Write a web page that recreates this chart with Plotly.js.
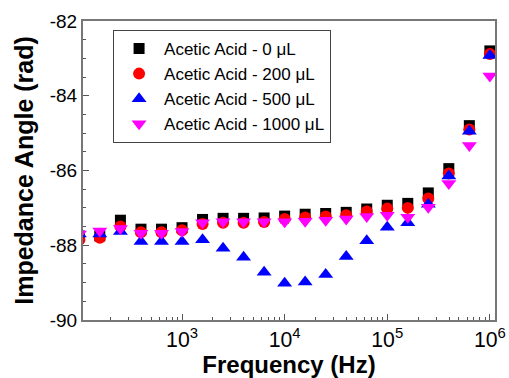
<!DOCTYPE html>
<html><head><meta charset="utf-8">
<script src="https://cdn.plot.ly/plotly-3.0.1.min.js"></script>
<style>html,body{margin:0;padding:0;background:#fff}#chart{width:509px;height:378px}</style>
</head><body><div id="chart"></div>
<script>
const freq = [100, 158, 251, 398, 631, 1000, 1585, 2512, 3981, 6310, 10000, 15849, 25119, 39811, 63096, 100000, 158489, 251189, 398107, 630957, 1000000];
const acid0 = [-87.75, -87.75, -87.33, -87.57, -87.57, -87.53, -87.31, -87.28, -87.28, -87.27, -87.22, -87.17, -87.15, -87.12, -87.03, -86.93, -86.88, -86.6, -85.95, -84.8, -82.8];
const acid200 = [-87.85, -87.8, -87.5, -87.65, -87.65, -87.6, -87.43, -87.4, -87.4, -87.38, -87.3, -87.26, -87.23, -87.2, -87.1, -87.02, -87.0, -86.75, -86.08, -84.9, -82.88];
const acid500 = [-87.7, -87.7, -87.63, -87.9, -87.9, -87.9, -87.85, -88.08, -88.32, -88.72, -89.02, -88.98, -88.78, -88.3, -87.88, -87.52, -87.4, -86.9, -86.15, -84.95, -82.92];
const acid1000 = [-87.7, -87.62, -87.55, -87.68, -87.68, -87.63, -87.4, -87.37, -87.37, -87.37, -87.37, -87.36, -87.33, -87.3, -87.23, -87.2, -87.25, -86.98, -86.35, -85.33, -83.47];
const names = ['Acetic Acid - 0 μL', 'Acetic Acid - 200 μL', 'Acetic Acid - 500 μL', 'Acetic Acid - 1000 μL'];
const yTicks = [-90, -88, -86, -84, -82];
const yTickText = ['-90', '-88', '-86', '-84', '-82'];

const series = [acid0, acid200, acid500, acid1000];
const symbols = ['square', 'circle', 'triangle-up', 'triangle-down'];
const colors = ['#000000', '#ff0000', '#0000ff', '#ff00ff'];
const sizes = [11, 12, 13, 13];

const traces = series.map((ys, i) => ({
  x: freq, y: ys, type: 'scatter', mode: 'markers', name: names[i],
  marker: {symbol: symbols[i], color: colors[i], size: sizes[i], line: {width: 0}}
}));

const font = 'Arial, "Liberation Sans", sans-serif';
const layout = {
  width: 509, height: 378,
  margin: {l: 83, r: 14, t: 21, b: 58},
  paper_bgcolor: '#fff', plot_bgcolor: '#fff',
  font: {family: font, color: '#000'},
  showlegend: true,
  legend: {x: 0.073, y: 0.97, xanchor: 'left', yanchor: 'top',
    bordercolor: '#444', borderwidth: 1, bgcolor: '#fff',
    font: {size: 17, family: font, color: '#000'}, itemwidth: 40, tracegroupgap: 0},
  xaxis: {
    type: 'log', range: [2.035, 6.05], dtick: 1, exponentformat: 'power',
    showgrid: false, zeroline: false,
    showline: true, linecolor: '#777', linewidth: 2, mirror: true,
    ticks: 'inside', ticklen: 6, tickcolor: '#555', tickwidth: 1,
    minor: {ticks: 'inside', ticklen: 3, tickcolor: '#555', dtick: 'D1', showgrid: false},
    tickfont: {size: 17, family: font, color: '#000'},
    title: {text: 'Frequency (Hz)', font: {size: 24, family: font, color: '#000', weight: 'bold'}, standoff: 3}
  },
  yaxis: {
    range: [-90, -82], tickvals: yTicks, ticktext: yTickText,
    showgrid: false, zeroline: false,
    showline: true, linecolor: '#777', linewidth: 2, mirror: true,
    ticks: 'inside', ticklen: 6, tickcolor: '#555', tickwidth: 1,
    minor: {ticks: 'inside', ticklen: 3, tickcolor: '#555', dtick: 0.5, showgrid: false},
    tickfont: {size: 19, family: font, color: '#000'},
    title: {text: 'Impedance Angle (rad)', font: {size: 25, family: font, color: '#000', weight: 'bold'}, standoff: 9}
  }
};
Plotly.newPlot('chart', traces, layout, {displayModeBar: false, staticPlot: true});
</script></body></html>
